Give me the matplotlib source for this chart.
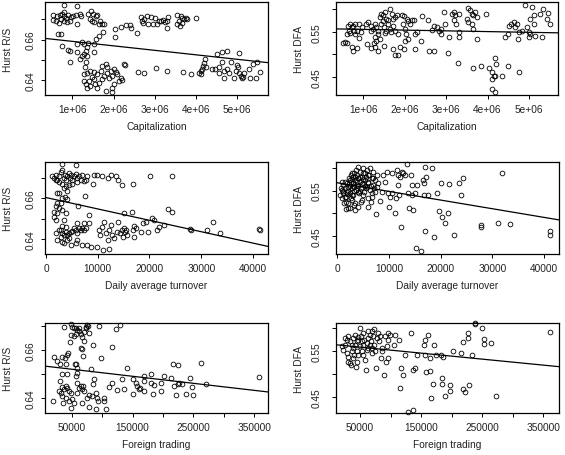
import numpy as np
import matplotlib
matplotlib.use("Agg")
import matplotlib.pyplot as plt

plt.rcParams["font.family"] = ["Liberation Sans", "DejaVu Sans"]
plt.rcParams["font.size"] = 7.3

# ---- data (capitalization in millions) ----
cap_rs = [
    (0.81, 0.6769), (1.11, 0.6766), (0.54, 0.6718), (0.62, 0.6713), (0.70, 0.6720), (0.76, 0.6723),
    (0.80, 0.6713), (0.85, 0.6707), (0.90, 0.6718), (0.96, 0.6710), (1.02, 0.6713), (1.08, 0.6718),
    (1.19, 0.6726), (1.22, 0.6713), (0.52, 0.6697), (0.60, 0.6690), (0.68, 0.6680), (0.79, 0.6693),
    (0.88, 0.6684), (0.94, 0.6690), (1.12, 0.6674), (0.65, 0.6627), (0.72, 0.6626), (0.81, 0.6733),
    (0.73, 0.6702),
    (1.38, 0.6726), (1.46, 0.6740), (1.51, 0.6723), (1.57, 0.6713), (1.61, 0.6718), (1.42, 0.6702),
    (1.47, 0.6690), (1.53, 0.6684), (1.65, 0.6677), (1.73, 0.6674), (1.78, 0.6674), (1.67, 0.6693),
    (1.75, 0.6639), (1.65, 0.6619), (1.57, 0.6603), (1.53, 0.6578),
    (0.76, 0.6570), (0.89, 0.6548), (0.94, 0.6545), (1.12, 0.6537), (1.12, 0.6578), (1.23, 0.6586),
    (1.28, 0.6578), (1.35, 0.6562), (1.38, 0.6581), (1.32, 0.6545), (1.28, 0.6529), (1.24, 0.6520),
    (1.19, 0.6504), (0.94, 0.6492), (1.36, 0.6520), (1.53, 0.6537), (1.32, 0.6488), (1.30, 0.6463),
    (1.28, 0.6430), (1.36, 0.6438), (1.44, 0.6446), (1.52, 0.6443), (1.61, 0.6433), (1.69, 0.6446),
    (1.73, 0.6471), (1.81, 0.6479), (1.85, 0.6463), (1.93, 0.6446), (2.01, 0.6454), (2.05, 0.6443),
    (2.09, 0.6430), (1.97, 0.6421), (1.89, 0.6413), (2.17, 0.6413), (2.21, 0.6400), (2.13, 0.6397),
    (2.01, 0.6380), (1.97, 0.6361), (1.97, 0.6344), (1.81, 0.6347), (1.61, 0.6361), (1.44, 0.6372),
    (1.32, 0.6384), (1.28, 0.6397), (1.40, 0.6397), (1.52, 0.6405), (1.65, 0.6389), (1.73, 0.6405),
    (1.48, 0.6416), (1.56, 0.6380), (1.36, 0.6364), (2.25, 0.6479), (2.28, 0.6474), (1.77, 0.6421),
    (1.85, 0.6438),
    (2.03, 0.6652), (2.19, 0.6660), (2.29, 0.6669), (2.40, 0.6672), (2.43, 0.6657), (2.56, 0.6632),
    (2.03, 0.6614),
    (2.66, 0.6710), (2.74, 0.6702), (2.82, 0.6713), (2.90, 0.6710), (3.00, 0.6707), (2.72, 0.6680),
    (2.84, 0.6674), (2.96, 0.6674), (3.06, 0.6674), (3.10, 0.6693), (3.16, 0.6690), (3.21, 0.6697),
    (3.24, 0.6685), (3.29, 0.6690), (3.32, 0.6710), (3.30, 0.6657), (2.70, 0.6693),
    (3.55, 0.6718), (3.59, 0.6693), (3.65, 0.6707), (3.71, 0.6702), (3.75, 0.6707), (3.79, 0.6702),
    (3.55, 0.6674), (3.62, 0.6664), (3.67, 0.6680), (3.99, 0.6707), (3.64, 0.6713),
    (2.60, 0.6443), (2.74, 0.6438), (3.04, 0.6459), (3.30, 0.6446), (3.68, 0.6441), (3.87, 0.6430),
    (4.07, 0.6438), (4.11, 0.6446), (4.15, 0.6454), (4.17, 0.6471), (4.19, 0.6487), (4.22, 0.6504),
    (4.12, 0.6433), (4.24, 0.6463),
    (4.39, 0.6454), (4.47, 0.6454), (4.55, 0.6463), (4.50, 0.6529), (4.64, 0.6537), (4.74, 0.6542),
    (4.64, 0.6488), (4.68, 0.6446), (4.68, 0.6413), (4.76, 0.6454), (4.84, 0.6488), (4.92, 0.6413),
    (4.96, 0.6446), (5.00, 0.6476), (5.02, 0.6463), (5.04, 0.6438), (5.08, 0.6421), (5.12, 0.6410),
    (5.14, 0.6416), (5.04, 0.6532), (5.16, 0.6438), (5.28, 0.6454), (5.30, 0.6410), (5.38, 0.6479),
    (5.48, 0.6488), (5.45, 0.6410), (5.55, 0.6443), (4.80, 0.6438), (4.55, 0.6438),
]

cap_dfa = [
    (0.52, 0.5246), (0.57, 0.527), (0.62, 0.5246), (0.68, 0.5679), (0.72, 0.5605), (0.76, 0.564),
    (0.65, 0.553), (0.69, 0.547), (0.77, 0.553), (0.81, 0.5455), (0.85, 0.553), (0.90, 0.5665),
    (0.94, 0.549), (0.98, 0.5605), (0.60, 0.5455), (0.73, 0.5157), (0.75, 0.508), (0.84, 0.5135),
    (0.90, 0.5366), (0.64, 0.564), (0.80, 0.568),
    (1.08, 0.5665), (1.12, 0.5717), (1.19, 0.564), (1.20, 0.553), (1.24, 0.5567), (1.28, 0.568),
    (1.32, 0.5605), (1.36, 0.553), (1.35, 0.5455), (1.28, 0.538), (1.32, 0.5306), (1.27, 0.5246),
    (1.36, 0.508), (1.10, 0.5232), (1.19, 0.5135), (1.28, 0.5157), (1.40, 0.5828), (1.44, 0.5903),
    (1.48, 0.5866), (1.52, 0.594), (1.56, 0.579), (1.60, 0.5754), (1.65, 0.6015), (1.69, 0.589),
    (1.73, 0.579), (1.77, 0.5828), (1.81, 0.5866), (1.44, 0.568), (1.51, 0.5605), (1.56, 0.553),
    (1.64, 0.5567), (1.73, 0.562), (1.78, 0.553), (1.52, 0.547), (1.40, 0.5343), (1.51, 0.5194),
    (1.73, 0.512), (1.77, 0.4993), (1.85, 0.4993), (1.89, 0.5157), (1.85, 0.5455), (1.48, 0.5739),
    (1.60, 0.568), (1.67, 0.549),
    (1.94, 0.5866), (1.99, 0.5843), (2.05, 0.579), (2.09, 0.5739), (2.13, 0.568), (2.19, 0.5754),
    (2.23, 0.5769), (1.96, 0.568), (2.00, 0.5567), (2.04, 0.5455), (2.02, 0.5306), (2.09, 0.5343),
    (1.99, 0.512), (2.26, 0.5455), (2.29, 0.549), (2.26, 0.512), (2.39, 0.5306), (2.43, 0.5843),
    (2.56, 0.5754),
    (2.59, 0.508), (2.72, 0.5067), (2.67, 0.5545), (2.72, 0.562), (2.77, 0.5605), (2.83, 0.553),
    (2.88, 0.5567), (2.94, 0.594), (2.98, 0.568), (2.88, 0.5455), (3.06, 0.538), (3.04, 0.503),
    (3.14, 0.5903), (3.18, 0.594), (3.22, 0.5866), (3.18, 0.5754), (3.23, 0.568), (3.30, 0.5903),
    (3.31, 0.549), (3.31, 0.5396), (3.28, 0.4799),
    (3.52, 0.6037), (3.58, 0.5978), (3.62, 0.5903), (3.66, 0.5866), (3.70, 0.594), (3.74, 0.5828),
    (3.50, 0.579), (3.54, 0.5717), (3.62, 0.5665), (3.66, 0.5567), (3.74, 0.5343), (3.96, 0.5903),
    (3.66, 0.4687), (3.84, 0.4747), (4.04, 0.4695), (4.10, 0.4598), (4.17, 0.4918), (4.20, 0.4784),
    (4.15, 0.4523), (4.10, 0.4463), (4.19, 0.4523), (4.10, 0.4225), (4.17, 0.4172), (4.36, 0.4523),
    (4.49, 0.474), (4.77, 0.4613),
    (4.41, 0.5396), (4.49, 0.5455), (4.51, 0.564), (4.57, 0.5665), (4.63, 0.5717), (4.67, 0.5605),
    (4.71, 0.5665), (4.73, 0.5343), (4.75, 0.549), (4.83, 0.553), (4.91, 0.609), (4.95, 0.5605),
    (4.99, 0.549), (5.02, 0.5455), (5.03, 0.579), (5.07, 0.6052), (5.11, 0.5866), (5.11, 0.5665),
    (5.15, 0.5417), (5.27, 0.5903), (5.31, 0.5396), (5.35, 0.6015), (5.43, 0.579), (5.47, 0.592),
    (5.51, 0.5665), (5.01, 0.5396),
]

turn_rs = [
    (3160, 0.6771), (5860, 0.6766), (1220, 0.6712), (1550, 0.6700), (1870, 0.6716), (2190, 0.6692),
    (2510, 0.6708), (2830, 0.6728), (3160, 0.6741), (3480, 0.6700), (3610, 0.6716), (3800, 0.6688),
    (4120, 0.6708), (4440, 0.6725), (4640, 0.6700), (4900, 0.6716), (5090, 0.6692), (5410, 0.6708),
    (5730, 0.6721), (6050, 0.6700), (6380, 0.6712), (6700, 0.6692), (7020, 0.6716), (7340, 0.6684),
    (7660, 0.6692), (7860, 0.6712), (1870, 0.6692), (2510, 0.6679), (3160, 0.6672), (3800, 0.6662),
    (4440, 0.6667), (5090, 0.6672), (6050, 0.6679), (9150, 0.6672), (9280, 0.6716), (9790, 0.6716),
    (10900, 0.6708), (11900, 0.6700), (12500, 0.6716), (13500, 0.6708), (13900, 0.6688),
    (14600, 0.6667), (16900, 0.6672), (20100, 0.6712), (24300, 0.6712), (3480, 0.6650),
    (4120, 0.6634), (7470, 0.6613),
    (2060, 0.6626), (2510, 0.6626), (3160, 0.6601), (3610, 0.6609), (4120, 0.6596), (2190, 0.6576),
    (1870, 0.6560), (2510, 0.6552), (3160, 0.6543), (1550, 0.6535), (2190, 0.6527), (3800, 0.6530),
    (1870, 0.6494), (3480, 0.6494), (1550, 0.6510), (2830, 0.6576), (6180, 0.6563), (8310, 0.6519),
    (1870, 0.6428), (2510, 0.6445), (2830, 0.6412), (3160, 0.6431), (3480, 0.6420), (3800, 0.6436),
    (4120, 0.6420), (4440, 0.6428), (4770, 0.6436), (5090, 0.6441), (5410, 0.6453), (5730, 0.6445),
    (6050, 0.6431), (6380, 0.6453), (6700, 0.6445), (7020, 0.6453), (7340, 0.6445), (7660, 0.6453),
    (2190, 0.6395), (3160, 0.6387), (4120, 0.6395), (4770, 0.6370), (5730, 0.6379), (6050, 0.6395),
    (7020, 0.6370), (7990, 0.6370), (8630, 0.6362), (9920, 0.6359), (11000, 0.6346),
    (12200, 0.6349), (3480, 0.6379), (4440, 0.6403), (6050, 0.6478), (7340, 0.6478), (8310, 0.6478),
    (3800, 0.6461), (3160, 0.6464), (2830, 0.6445),
    (10200, 0.6445), (10400, 0.6420), (10900, 0.6461), (11300, 0.6486), (11500, 0.6428),
    (11900, 0.6395), (12200, 0.6445), (12500, 0.6470), (12800, 0.6420), (13100, 0.6403),
    (13700, 0.6436), (13900, 0.6486), (14300, 0.6428), (14600, 0.6445), (14800, 0.6412),
    (15000, 0.6453), (15200, 0.6436), (15100, 0.6527), (15400, 0.6445), (15700, 0.6420),
    (16700, 0.6535), (16900, 0.6445), (17000, 0.6408), (17100, 0.6464), (17300, 0.6453),
    (18300, 0.6436), (18800, 0.6478), (19300, 0.6486), (19700, 0.6436), (20400, 0.6502),
    (20900, 0.6494), (21500, 0.6445), (21800, 0.6461), (22800, 0.6470), (23600, 0.6547),
    (24400, 0.6535), (27800, 0.6448), (28100, 0.6445), (31200, 0.6445), (32200, 0.6486),
    (33600, 0.6428), (41200, 0.6448), (41400, 0.6445),
]

turn_dfa = [
    (840, 0.5700), (1160, 0.5623), (970, 0.5512), (1160, 0.5438), (1480, 0.5549), (1480, 0.5364),
    (1610, 0.5254), (1810, 0.5475), (1810, 0.5660), (2130, 0.5586), (2130, 0.5217), (1990, 0.5106),
    (2450, 0.5734), (2450, 0.5438), (2650, 0.5328), (2770, 0.5882), (2770, 0.5549), (2900, 0.5291),
    (3100, 0.5808), (3100, 0.5660), (3100, 0.5401), (3290, 0.5180), (3420, 0.5069), (3420, 0.5734),
    (3550, 0.5512), (3740, 0.5845), (3740, 0.5623), (3940, 0.5143), (4060, 0.6030), (4060, 0.5771),
    (4190, 0.5438), (4390, 0.5919), (4390, 0.5697), (4580, 0.5549), (4710, 0.5808), (4710, 0.5291),
    (5030, 0.5993), (5030, 0.5660), (5230, 0.5475), (5350, 0.5882), (5350, 0.5734), (5680, 0.5956),
    (5680, 0.5586), (6000, 0.5845), (6000, 0.5660), (6000, 0.5143), (6320, 0.5993), (6320, 0.5512),
    (6650, 0.5771), (6770, 0.5364), (6970, 0.5919), (6970, 0.5623), (7290, 0.5734), (7290, 0.5475),
    (7420, 0.4980), (7610, 0.5845), (7610, 0.5586), (7810, 0.5660), (4580, 0.5254), (5870, 0.5328),
    (6520, 0.5254), (8260, 0.5276), (8580, 0.5475), (8900, 0.5845), (9230, 0.5697), (9550, 0.5919),
    (9870, 0.5438), (10000, 0.5143), (10200, 0.5350), (10500, 0.5438), (10600, 0.5882),
    (11200, 0.4995), (11300, 0.5328), (11500, 0.5956), (11700, 0.5845), (11800, 0.5623),
    (11900, 0.5401), (12100, 0.5808), (12300, 0.4699), (12450, 0.5919), (12800, 0.5882),
    (13100, 0.5845), (13400, 0.6089), (13600, 0.5438), (13900, 0.5106), (14300, 0.5845),
    (14400, 0.5401), (14500, 0.5623), (14700, 0.5069), (15000, 0.5438), (15200, 0.4219),
    (15400, 0.5623), (16200, 0.4167), (16600, 0.5734), (16800, 0.5660), (17000, 0.6030),
    (16800, 0.5401), (17000, 0.4611), (17100, 0.5808), (17500, 0.5401), (18300, 0.5993),
    (18800, 0.4463), (19200, 0.5438), (19700, 0.5054), (20100, 0.5675), (20300, 0.4906),
    (20800, 0.4788), (21500, 0.5010), (21600, 0.5645), (22600, 0.4515), (23500, 0.5675),
    (23900, 0.5401), (24400, 0.5771), (27800, 0.4736), (27900, 0.4684), (31000, 0.4788),
    (31900, 0.5897), (33500, 0.4751), (41200, 0.4603), (41200, 0.4515),
    (1350, 0.5217), (1680, 0.5084), (2450, 0.5106), (3420, 0.5232), (2260, 0.5771), (2650, 0.5697),
    (3290, 0.5586), (3940, 0.5475), (5030, 0.5401), (5480, 0.5549), (6650, 0.5438), (7160, 0.5549),
    (520, 0.5401), (710, 0.5549), (840, 0.5328),
    (1500, 0.5700), (2000, 0.5500), (2300, 0.5650), (2600, 0.5850), (2900, 0.5750), (3200, 0.5900),
    (3500, 0.5800), (3800, 0.5700), (4100, 0.5600), (4400, 0.5800), (4700, 0.5650), (5000, 0.5750),
    (5300, 0.5600), (5600, 0.5800), (5900, 0.5700), (6200, 0.5850), (6500, 0.5600), (7000, 0.5780),
    (1200, 0.5500), (1700, 0.5350), (2800, 0.5400), (3300, 0.5500), (4300, 0.5500), (4900, 0.5900),
    (3600, 0.5950), (2400, 0.5600), (1900, 0.5420), (3000, 0.5600),
]

foreign_rs = [
    (37400, 0.6694), (48400, 0.6706), (51100, 0.6694), (53800, 0.6689), (56600, 0.6692),
    (59300, 0.6681), (48400, 0.6661), (47300, 0.6634), (53800, 0.6657), (56600, 0.6667),
    (62000, 0.6678), (64800, 0.6664), (67500, 0.6653), (70300, 0.6675), (73000, 0.6694),
    (75700, 0.6703), (77400, 0.6699), (78500, 0.6671), (74100, 0.6689), (64800, 0.6609),
    (66400, 0.6602), (94900, 0.6699), (69200, 0.6574), (85600, 0.6620), (97600, 0.6567),
    (117000, 0.6612), (122000, 0.6685), (129000, 0.6703), (70300, 0.6636), (62000, 0.6692),
    (21000, 0.6570), (26500, 0.6554), (30900, 0.6542), (34700, 0.6570), (38500, 0.6567),
    (41800, 0.6578), (44000, 0.6588), (40100, 0.6540), (34700, 0.6498), (41800, 0.6498),
    (56600, 0.6540), (58200, 0.6526), (59300, 0.6505), (81200, 0.6519), (55400, 0.6540),
    (20000, 0.6388), (29200, 0.6429), (31900, 0.6422), (34700, 0.6408), (37400, 0.6436),
    (40100, 0.6450), (42900, 0.6443), (45600, 0.6429), (48400, 0.6422), (40100, 0.6401),
    (36300, 0.6381), (45600, 0.6388), (48400, 0.6360), (53800, 0.6381), (51100, 0.6395),
    (59300, 0.6464), (62000, 0.6443), (64800, 0.6450), (67500, 0.6436), (69200, 0.6450),
    (70300, 0.6429), (59300, 0.6422), (67500, 0.6381), (78500, 0.6363), (86700, 0.6478),
    (85600, 0.6457), (89400, 0.6422), (92100, 0.6401), (93200, 0.6388), (89400, 0.6353),
    (103000, 0.6401), (103000, 0.6388), (106000, 0.6353), (83900, 0.6408), (78500, 0.6412),
    (75700, 0.6399), (56600, 0.6491), (30900, 0.6471), (34700, 0.6446),
    (111000, 0.6446), (117000, 0.6464), (125000, 0.6432), (133000, 0.6478), (136000, 0.6436),
    (141000, 0.6526), (150000, 0.6478), (151000, 0.6415), (155000, 0.6464), (158000, 0.6450),
    (161000, 0.6436), (163000, 0.6443), (168000, 0.6491), (169000, 0.6471), (169000, 0.6429),
    (180000, 0.6464), (181000, 0.6498), (183000, 0.6415), (186000, 0.6454), (196000, 0.6464),
    (197000, 0.6429), (201000, 0.6491), (213000, 0.6484), (216000, 0.6540), (218000, 0.6450),
    (221000, 0.6412), (224000, 0.6457), (225000, 0.6535), (226000, 0.6464), (231000, 0.6457),
    (237000, 0.6418), (245000, 0.6484), (248000, 0.6446), (250000, 0.6412), (262000, 0.6547),
    (270000, 0.6457), (358000, 0.6487),
]

foreign_dfa = [
    (20000, 0.5606), (22700, 0.5532), (25400, 0.5644), (28200, 0.5755), (30900, 0.5829),
    (29800, 0.5384), (30900, 0.5272), (33600, 0.5718), (33600, 0.5235), (35300, 0.5198),
    (36400, 0.5495), (36400, 0.5629), (39100, 0.5792), (39100, 0.5569), (40700, 0.5421),
    (41800, 0.5644), (42900, 0.5161), (44500, 0.5718), (44500, 0.5495), (47300, 0.5755),
    (47300, 0.5421), (50000, 0.6015), (50000, 0.5606), (51600, 0.5829), (52700, 0.5718),
    (53800, 0.5495), (55500, 0.5903), (55500, 0.5644), (57100, 0.5755), (58200, 0.5309),
    (59300, 0.5087), (60900, 0.5681), (62500, 0.5792), (63600, 0.5941), (63600, 0.5569),
    (66400, 0.5866), (68000, 0.5718), (69100, 0.5458), (70200, 0.5941), (71800, 0.5829),
    (73400, 0.5978), (73400, 0.5644), (74500, 0.5495), (75600, 0.5124), (77300, 0.5792),
    (78900, 0.5903), (81100, 0.5718), (82700, 0.5829), (84400, 0.5347), (85500, 0.5569),
    (86600, 0.5495), (89800, 0.4975), (90900, 0.5829), (92000, 0.5272), (93600, 0.5606),
    (95300, 0.5755), (96400, 0.5903), (96400, 0.5347), (99100, 0.5866), (106000, 0.5644),
    (108000, 0.5851), (114000, 0.5755), (124000, 0.5421), (134000, 0.5903), (137000, 0.5087),
    (140000, 0.5124), (144000, 0.5421), (115000, 0.4693), (117000, 0.5139), (120000, 0.4990),
    (128000, 0.4173), (136000, 0.4218), (154000, 0.5644), (156000, 0.5421), (156000, 0.5755),
    (158000, 0.5049), (162000, 0.5866), (165000, 0.5064), (165000, 0.5347), (166000, 0.4470),
    (170000, 0.4790), (171000, 0.5644), (174000, 0.5421), (183000, 0.5421), (184000, 0.4916),
    (184000, 0.4790), (186000, 0.5384), (189000, 0.4515), (197000, 0.4640), (198000, 0.4752),
    (203000, 0.5510), (215000, 0.5458), (218000, 0.5703), (219000, 0.4678), (222000, 0.4604),
    (226000, 0.5792), (227000, 0.5903), (229000, 0.4752), (233000, 0.5421), (238000, 0.6089),
    (239000, 0.6119), (249000, 0.6015), (253000, 0.5777), (253000, 0.5659), (265000, 0.5681),
    (272000, 0.4530), (361000, 0.5926),
    (25400, 0.5792), (28200, 0.5458), (39100, 0.5347), (41800, 0.5866), (44500, 0.5272),
    (46200, 0.5807), (55500, 0.5421), (60900, 0.5532), (66400, 0.5644), (70200, 0.5569),
]

# fitted lines: (intercept, slope)
fit_cap_rs = (0.6613, -2.2e-9)
fit_cap_dfa = (0.5572, -1.63e-9)
fit_turn_rs = (0.6604, -5.61e-7)
fit_turn_dfa = (0.5673, -1.917e-6)
fit_foreign_rs = (0.6534, -2.92e-8)
fit_foreign_dfa = (0.5656, -1.312e-7)

cap_ticks = [1e6, 2e6, 3e6, 4e6, 5e6]
cap_labels = ["1e+06", "2e+06", "3e+06", "4e+06", "5e+06"]
turn_ticks = [0, 10000, 20000, 30000, 40000]
turn_labels = ["0", "10000", "20000", "30000", "40000"]
foreign_ticks = [50000, 100000, 150000, 200000, 250000, 300000, 350000]
foreign_labels = ["50000", "", "150000", "", "250000", "", "350000"]
rs_ticks = [0.64, 0.65, 0.66, 0.67]
rs_labels = ["0.64", "", "0.66", ""]
dfa_ticks = [0.45, 0.50, 0.55, 0.60]
dfa_labels = ["0.45", "", "0.55", ""]

W, H = 565, 456


def box(l, t, r, b):
    return [l / W, 1 - b / H, (r - l) / W, (b - t) / H]


panels = [
    # points, fit, box, xlim, ylim, xticks, xlabels, yticks, ylabels, xlabel, ylabel, xscale
    (cap_rs, fit_cap_rs, box(45, 3, 268, 96), (0.338e6, 5.744e6), (0.6328, 0.6784),
     cap_ticks, cap_labels, rs_ticks, rs_labels, "Capitalization", "Hurst R/S", 1e6),
    (cap_dfa, fit_cap_dfa, box(336, 3, 558, 96), (0.345e6, 5.70e6), (0.4098, 0.6164),
     cap_ticks, cap_labels, dfa_ticks, dfa_labels, "Capitalization", "Hurst DFA", 1e6),
    (turn_rs, fit_turn_rs, box(45, 163, 268, 255), (-193, 42900), (0.6326, 0.6779),
     turn_ticks, turn_labels, rs_ticks, rs_labels, "Daily average turnover", "Hurst R/S", 1),
    (turn_dfa, fit_turn_dfa, box(336, 163, 559, 255), (-250, 42900), (0.4095, 0.6133),
     turn_ticks, turn_labels, dfa_ticks, dfa_labels, "Daily average turnover", "Hurst DFA", 1),
    (foreign_rs, fit_foreign_rs, box(45, 324, 268, 414), (6160, 372500), (0.6338, 0.6711),
     foreign_ticks, foreign_labels, rs_ticks, rs_labels, "Foreign trading", "Hurst R/S", 1),
    (foreign_dfa, fit_foreign_dfa, box(336, 324, 559, 414), (10720, 375700), (0.4150, 0.6118),
     foreign_ticks, foreign_labels, dfa_ticks, dfa_labels, "Foreign trading", "Hurst DFA", 1),
]

fig = plt.figure(figsize=(W / 100, H / 100), dpi=100)

for i, (pts, fit, rect, xlim, ylim, xt, xl, yt, yl, xlab, ylab, xs) in enumerate(panels):
    ax = fig.add_axes(rect)
    x = np.array([p[0] for p in pts]) * xs
    y = np.array([p[1] for p in pts])
    ax.plot(x, y, "o", mfc="none", mec="black", ms=3.4, mew=0.6, clip_on=False)
    ax.axline((0, fit[0]), slope=fit[1], color="black", lw=0.9)
    ax.set_xlim(xlim)
    ax.set_ylim(ylim)
    ax.set_xticks(xt)
    ax.set_xticklabels(xl)
    ax.set_yticks(yt)
    ax.set_yticklabels(yl)
    right_col = i % 2 == 1
    ax.tick_params(axis="both", length=3.0, width=0.7, color="black", labelcolor="#222222")
    ax.tick_params(axis="x", pad=3.2)
    ax.tick_params(axis="y", pad=7.5 if right_col else 4.0)
    plt.setp(ax.get_yticklabels(), rotation=90, va="center")
    for s in ax.spines.values():
        s.set_linewidth(0.9)
    ax.set_xlabel(xlab, color="#222222")
    ax.set_ylabel(ylab, color="#222222")
    wpx = rect[2] * W
    hpx = rect[3] * H
    ax.xaxis.set_label_coords(0.5, -26 / hpx)
    ax.yaxis.set_label_coords(-32 / wpx, 0.5)

fig.savefig("out.png", dpi=100)
